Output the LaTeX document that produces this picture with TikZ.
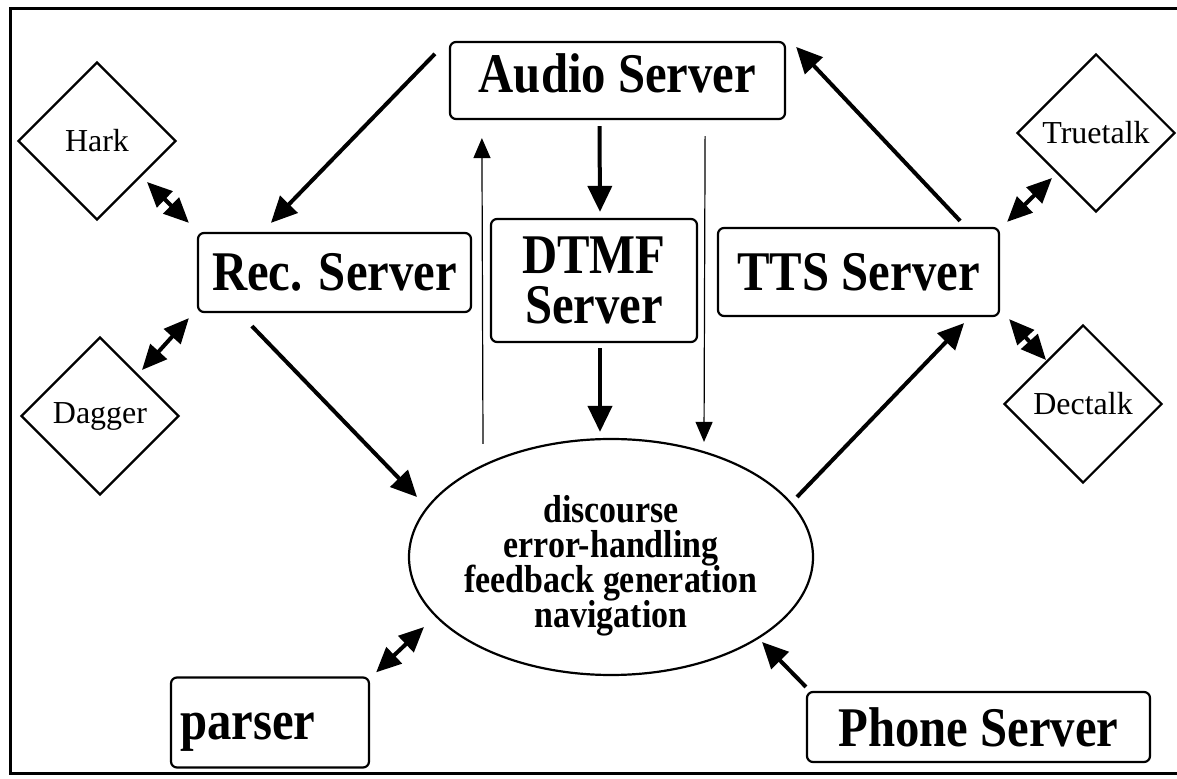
\documentclass[tikz,border=0pt]{standalone}
\usepackage{fontspec}
\setmainfont{Liberation Serif}
\newfontfamily\narrowfont[FakeStretch=0.87]{Liberation Serif}
\newcommand\tightlines{\setlength{\lineskiplimit}{-100pt}}
\usetikzlibrary{shapes,arrows,positioning}
\usetikzlibrary{arrows.meta,calc}

\begin{document}
\begin{tikzpicture}[x=0.5pt,y=-0.5pt,
  server/.style={draw, line width=1.1pt, rounded corners=3pt, inner sep=0pt,
    font=\narrowfont\bfseries\fontsize{28}{25}\selectfont},
  engine/.style={draw, diamond, aspect=1, line width=1.1pt, inner sep=0pt,
    minimum width=79pt, minimum height=79pt, font=\fontsize{16}{18}\selectfont},
  flow/.style={line width=2pt, -{Triangle[length=13pt,width=12pt]}},
  link/.style={line width=2pt, {Triangle[length=12.5pt,width=11pt]}-{Triangle[length=12.5pt,width=11pt]}},
  thinflow/.style={line width=0.6pt, -{Triangle[length=10pt,width=8.5pt]}}]

\useasboundingbox (0,0) rectangle (1177,779);

% Outer frame (open at the right edge)
\draw[line width=1.5pt] (1177,9) -- (10,9) -- (10,773) -- (1177,773);

% Servers
\node[server, minimum width=167.5pt, minimum height=38.5pt] (audio) at (617.5,80.5) {\raisebox{3.5pt}[\height][\depth]{Audio Server}};
\node[server, minimum width=136.5pt, minimum height=39.5pt] (rec) at (334.5,272.5) {Rec. Server};
\node[server, minimum width=103pt, minimum height=61.5pt, align=center] (dtmf) at (594,280.5) {DTMF\\Server};
\node[server, minimum width=140.5pt, minimum height=44pt] (tts) at (858.5,272) {TTS Server};
\node[server, minimum height=45pt, text width=90pt, inner xsep=4.5pt, align=left] (parser) at (270,722.5) {\raisebox{-5pt}[\height][\depth]{parser}};
\node[server, minimum width=171.5pt, minimum height=35pt] (phone) at (978.5,727) {Phone Server};

% Recognizers and synthesizers
\node[engine] (hark) at (97,141) {Hark};
\node[engine] (dagger) at (100,416) {Dagger};
\node[engine] (truetalk) at (1096,133) {Truetalk};
\node[engine] (dectalk) at (1083,404) {Dectalk};

% Dialogue manager
\node[draw, ellipse, line width=1.1pt, minimum width=202pt, minimum height=118pt] (dlg) at (611,557) {};
\node[align=center, inner sep=0pt,
  font=\narrowfont\bfseries\fontsize{19.5}{17.5}\selectfont\tightlines] (dlgtext) at (611,566)
  {discourse\\error-handling\\feedback generation\\navigation};

% Audio flow
\draw[flow] ($(audio.north west)+(-14,13)$) -- ($(rec.north west)+(74,-9)$);
\draw[flow] ($(audio.south)+(-18,6)$) -- ($(dtmf.north)+(6,-6)$);
\draw[flow] ($(dtmf.south)+(6,5)$) -- ($(dlg.north)+(-11,-6)$);
\draw[flow] ($(tts.north east)+(-40,-6)$) -- ($(audio.north east)+(10,6)$);

% Thin control lines
\draw[thinflow] ($(dlg.north)+(-128,6)$) -- ($(audio.south west)+(33,18)$);
\draw[thinflow] ($(audio.south east)+(-81,16)$) -- ($(dlg.north)+(93,4)$);

% Dialogue connections
\draw[flow] ($(rec.south west)+(55,13)$) -- ($(dlg.center)+(-194,-60)$);
\draw[flow] ($(dlg.center)+(186,-60)$) -- ($(tts.south east)+(-36,6)$);
\draw[flow] ($(phone.north west)+(0,-4)$) -- ($(dlg.center)+(151,85)$);
\draw[link] ($(parser.north east)+(6,-4)$) -- ($(dlg.center)+(-187,70)$);

% Engine links
\draw[link] ($(hark.center)+(50,41)$) -- ($(rec.north west)+(-8,-9)$);
\draw[link] ($(rec.south west)+(-8,5)$) -- ($(dagger.center)+(42,-46)$);
\draw[link] ($(tts.north east)+(7,-5)$) -- ($(truetalk.center)+(-44,45)$);
\draw[link] ($(tts.south east)+(9,2)$) -- ($(dectalk.center)+(-37,-44)$);

\end{tikzpicture}
\end{document}
